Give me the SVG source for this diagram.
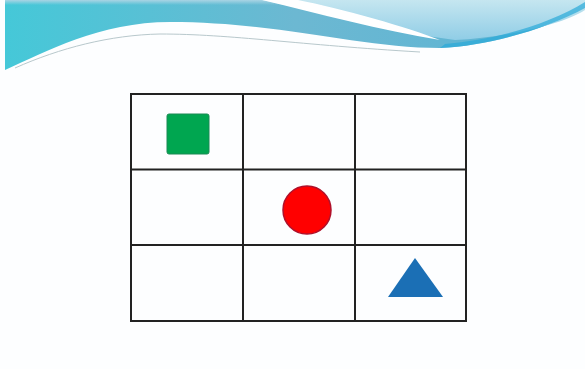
<svg xmlns="http://www.w3.org/2000/svg" width="585" height="369" viewBox="0 0 585 369">
<defs>
<linearGradient id="gl" x1="0" y1="0" x2="1" y2="0">
<stop offset="0" stop-color="#45c8d8"/>
<stop offset="0.5" stop-color="#6cb8d2"/>
<stop offset="1" stop-color="#5ab4d4"/>
</linearGradient>
<linearGradient id="gr" x1="0" y1="0" x2="0" y2="1">
<stop offset="0" stop-color="#c5e6f0"/>
<stop offset="1" stop-color="#90cde6"/>
</linearGradient>
<linearGradient id="gt" x1="0" y1="0" x2="0" y2="1">
<stop offset="0" stop-color="#a9d4e4"/>
<stop offset="1" stop-color="#a9d4e4" stop-opacity="0"/>
</linearGradient>
</defs>
<style>
.grid{stroke:#222;stroke-width:2;fill:none}
</style>
<rect width="585" height="369" fill="#fdfeff"/>
<g id="header">
<path d="M5,0 H585 V8 C548,28 490,46 440,48 C360,48 280,22 170,22 C100,22 45,52 5,70 Z" fill="url(#gl)"/>
<path d="M5,0 H585 V5 H5 Z" fill="url(#gt)"/>
<path d="M262,0 H585 V10 C560,26 500,38 455,40 C390,32 320,12 262,0 Z" fill="url(#gr)"/>
<path d="M585,8 C548,28 490,46 440,48 L445,44 C495,40 550,24 585,2 Z" fill="#2aa9d8" opacity="0.7"/>
<path d="M262,0 C320,14 380,30 440,40 C410,28 340,8 298,0 Z" fill="#ffffff"/>
<path d="M15,68 C60,48 110,35 160,34 C230,34 300,45 420,52" stroke="#b8c8cc" stroke-width="1" fill="none"/>
</g>
<g id="grid">
<rect class="grid" x="131" y="94" width="335" height="227"/>
<line class="grid" x1="243" y1="94" x2="243" y2="321"/>
<line class="grid" x1="355" y1="94" x2="355" y2="321"/>
<line class="grid" x1="131" y1="169.5" x2="466" y2="169.5"/>
<line class="grid" x1="131" y1="245" x2="466" y2="245"/>
</g>
<g id="square">
<rect x="167" y="114" width="42" height="40" rx="2" fill="#00a650" stroke="#1a8a55" stroke-width="1"/>
</g>
<g id="circle">
<circle cx="307" cy="210" r="24" fill="#ff0000" stroke="#b0102a" stroke-width="1.5"/>
</g>
<g id="triangle">
<polygon points="415,258 443,297 388,297" fill="#1b6fb5"/>
</g>
</svg>
